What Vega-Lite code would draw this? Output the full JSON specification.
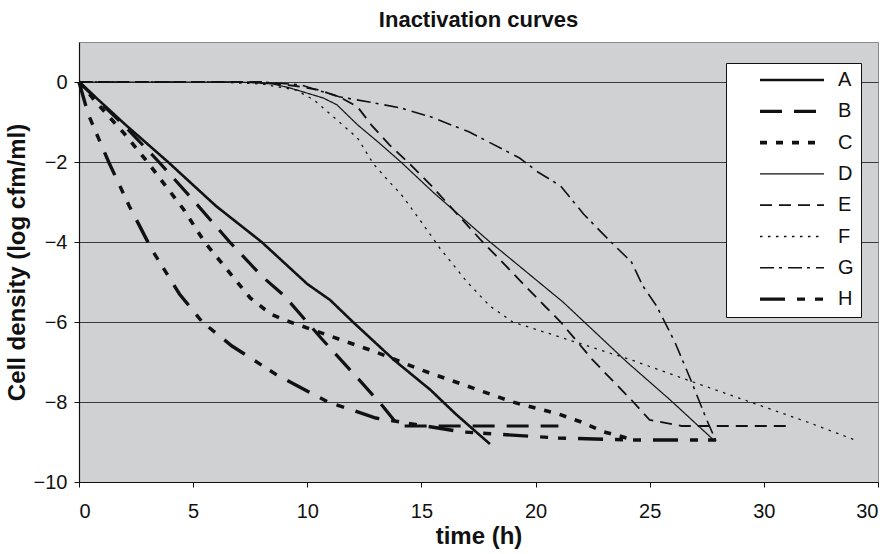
{
  "$schema": "https://vega.github.io/schema/vega-lite/v6.json",
  "width": 799,
  "height": 440,
  "autosize": {"type": "none"},
  "padding": {"left": 79, "top": 42, "right": 16, "bottom": 72},
  "background": "white",
  "title": {"text": "Inactivation curves", "fontSize": 22, "font": "Liberation Sans", "fontWeight": "bold", "offset": 10, "color": "#111"},
  "config": {
    "view": {"fill": "#d0d1d3", "stroke": "#8a8a8a", "strokeWidth": 1},
    "axis": {"labelFont": "Liberation Sans", "titleFont": "Liberation Sans", "labelFontSize": 20, "titleFontSize": 24, "titleFontWeight": "bold", "labelColor": "#111", "titleColor": "#111", "domainColor": "#111", "tickColor": "#111", "tickSize": 5, "domainWidth": 1.2},
    "legend": {"labelFont": "Liberation Sans"}
  },
  "data": {"values": [
    {"s":"A","t":0,"v":0},{"s":"A","t":2,"v":-1.05},{"s":"A","t":3.9,"v":-2},{"s":"A","t":6,"v":-3.1},{"s":"A","t":8,"v":-4},{"s":"A","t":10,"v":-5.05},{"s":"A","t":11,"v":-5.45},{"s":"A","t":12,"v":-6},{"s":"A","t":13.8,"v":-6.95},{"s":"A","t":15.4,"v":-7.7},{"s":"A","t":16.5,"v":-8.3},{"s":"A","t":18,"v":-9.05},
    {"s":"B","t":0,"v":0},{"s":"B","t":2,"v":-1.1},{"s":"B","t":3.5,"v":-2},{"s":"B","t":5,"v":-2.95},{"s":"B","t":6.6,"v":-4},{"s":"B","t":8,"v":-4.85},{"s":"B","t":9,"v":-5.35},{"s":"B","t":10.6,"v":-6.4},{"s":"B","t":12.2,"v":-7.4},{"s":"B","t":13.3,"v":-8.1},{"s":"B","t":14,"v":-8.6},{"s":"B","t":21,"v":-8.6},
    {"s":"C","t":0,"v":0},{"s":"C","t":0.9,"v":-0.6},{"s":"C","t":2,"v":-1.3},{"s":"C","t":3,"v":-2},{"s":"C","t":4.6,"v":-3.2},{"s":"C","t":5.5,"v":-4},{"s":"C","t":6.5,"v":-4.7},{"s":"C","t":7.5,"v":-5.4},{"s":"C","t":8.4,"v":-5.8},{"s":"C","t":9,"v":-5.95},{"s":"C","t":11,"v":-6.35},{"s":"C","t":13,"v":-6.75},{"s":"C","t":15,"v":-7.2},{"s":"C","t":17,"v":-7.6},{"s":"C","t":19,"v":-8},{"s":"C","t":21,"v":-8.3},{"s":"C","t":22,"v":-8.5},{"s":"C","t":23,"v":-8.75},{"s":"C","t":24,"v":-8.9},
    {"s":"D","t":0,"v":0},{"s":"D","t":7,"v":0},{"s":"D","t":8.5,"v":-0.05},{"s":"D","t":9.25,"v":-0.15},{"s":"D","t":10.7,"v":-0.4},{"s":"D","t":11.3,"v":-0.57},{"s":"D","t":12.2,"v":-1.07},{"s":"D","t":13.1,"v":-1.5},{"s":"D","t":14.1,"v":-2},{"s":"D","t":15.5,"v":-2.75},{"s":"D","t":17.9,"v":-3.95},{"s":"D","t":21.2,"v":-5.5},{"s":"D","t":24,"v":-7},{"s":"D","t":25.9,"v":-7.95},{"s":"D","t":27.8,"v":-8.95},
    {"s":"E","t":0,"v":0},{"s":"E","t":8,"v":0},{"s":"E","t":9.5,"v":-0.1},{"s":"E","t":10.5,"v":-0.2},{"s":"E","t":11.4,"v":-0.37},{"s":"E","t":12.2,"v":-0.62},{"s":"E","t":12.8,"v":-1.07},{"s":"E","t":13.6,"v":-1.57},{"s":"E","t":14.4,"v":-2},{"s":"E","t":15.4,"v":-2.57},{"s":"E","t":17.6,"v":-3.95},{"s":"E","t":20.4,"v":-5.6},{"s":"E","t":21.1,"v":-6},{"s":"E","t":22.5,"v":-6.95},{"s":"E","t":24.2,"v":-7.95},{"s":"E","t":25,"v":-8.45},{"s":"E","t":26.4,"v":-8.6},{"s":"E","t":31,"v":-8.6},
    {"s":"F","t":0,"v":0},{"s":"F","t":6,"v":0},{"s":"F","t":8,"v":-0.05},{"s":"F","t":9.5,"v":-0.2},{"s":"F","t":10.3,"v":-0.45},{"s":"F","t":11.4,"v":-1},{"s":"F","t":12.2,"v":-1.4},{"s":"F","t":12.9,"v":-2.05},{"s":"F","t":13.6,"v":-2.5},{"s":"F","t":14.1,"v":-2.8},{"s":"F","t":15,"v":-3.5},{"s":"F","t":15.8,"v":-4.15},{"s":"F","t":17,"v":-5},{"s":"F","t":18,"v":-5.6},{"s":"F","t":19,"v":-6},{"s":"F","t":21.2,"v":-6.4},{"s":"F","t":24.2,"v":-6.95},{"s":"F","t":26.9,"v":-7.5},{"s":"F","t":29.4,"v":-8},{"s":"F","t":31.9,"v":-8.5},{"s":"F","t":34,"v":-8.95},
    {"s":"G","t":0,"v":0},{"s":"G","t":8,"v":0},{"s":"G","t":9.7,"v":-0.07},{"s":"G","t":11.4,"v":-0.37},{"s":"G","t":12.9,"v":-0.52},{"s":"G","t":14.1,"v":-0.65},{"s":"G","t":15.4,"v":-0.87},{"s":"G","t":17.1,"v":-1.25},{"s":"G","t":19.3,"v":-1.9},{"s":"G","t":20.1,"v":-2.25},{"s":"G","t":21.1,"v":-2.6},{"s":"G","t":22.1,"v":-3.3},{"s":"G","t":23.3,"v":-4},{"s":"G","t":24.2,"v":-4.5},{"s":"G","t":24.7,"v":-5.1},{"s":"G","t":25.3,"v":-5.6},{"s":"G","t":26.1,"v":-6.5},{"s":"G","t":26.8,"v":-7.45},{"s":"G","t":27.5,"v":-8.45},{"s":"G","t":28,"v":-9.1},
    {"s":"H","t":0,"v":0},{"s":"H","t":0.4,"v":-0.8},{"s":"H","t":1.3,"v":-2},{"s":"H","t":2.2,"v":-3.1},{"s":"H","t":3.2,"v":-4.2},{"s":"H","t":4.4,"v":-5.3},{"s":"H","t":5.4,"v":-6},{"s":"H","t":6.7,"v":-6.6},{"s":"H","t":8.6,"v":-7.3},{"s":"H","t":10.9,"v":-8},{"s":"H","t":13,"v":-8.4},{"s":"H","t":16.8,"v":-8.75},{"s":"H","t":21,"v":-8.9},{"s":"H","t":24.2,"v":-8.95},{"s":"H","t":28,"v":-8.95}
  ]},
  "mark": {"type": "line", "color": "#111", "strokeCap": "butt"},
  "encoding": {
    "x": {"field": "t", "type": "quantitative", "title": "time (h)",
      "scale": {"domain": [0, 35], "nice": false, "zero": false},
      "axis": {"values": [0, 5, 10, 15, 20, 25, 30, 35], "labelExpr": "datum.value == 35 ? '30' : datum.label", "grid": false, "titlePadding": 3, "labelPadding": 14}},
    "y": {"field": "v", "type": "quantitative", "title": "Cell density (log cfm/ml)",
      "scale": {"domain": [-10, 1], "nice": false, "zero": false},
      "axis": {"values": [-10, -8, -6, -4, -2, 0], "grid": true, "gridColor": "#3a3a3a", "gridWidth": 1, "titlePadding": 4, "labelPadding": 7}},
    "strokeDash": {"field": "s", "type": "nominal",
      "scale": {"domain": ["A","B","C","D","E","F","G","H"], "range": [[1,0],[22,12],[7,9],[1,0],[12,7],[2.5,5.5],[14,5,3,6],[25,12,8,10,8,12]]},
      "legend": {"title": null, "orient": "none", "legendX": 647, "legendY": 21, "fillColor": "white", "strokeColor": "#111", "padding": 7, "symbolType": "stroke", "symbolSize": 4096, "symbolStrokeColor": "#111", "clipHeight": 20, "rowPadding": 11.3, "labelFontSize": 20, "labelColor": "#111", "labelOffset": 12, "symbolOffset": 25}},
    "strokeWidth": {"field": "s", "type": "nominal",
      "scale": {"type": "ordinal", "domain": ["A","B","C","D","E","F","G","H"], "range": [2.6, 3.2, 3.6, 1.2, 1.8, 1.3, 1.6, 3.4]},
      "legend": {"title": null}}
  }
}
